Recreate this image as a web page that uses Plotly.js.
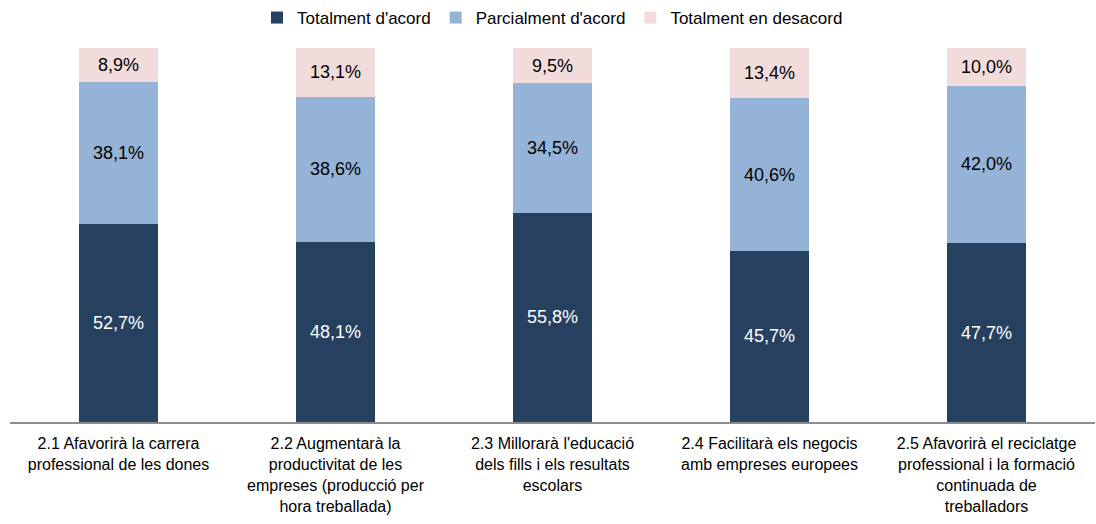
<!DOCTYPE html>
<html>
<head>
<meta charset="utf-8">
<script src="https://cdn.plot.ly/plotly-3.0.1.min.js"></script>
<style>
  html, body { margin: 0; padding: 0; background: #fff; }
  #chart { width: 1096px; height: 524px; }
</style>
</head>
<body>
<div id="chart"></div>
<script>
// categories (tick labels with the original line breaks)
let categories = [
  "2.1 Afavorirà la carrera<br>professional de les dones",
  "2.2 Augmentarà la<br>productivitat de les<br>empreses (producció per<br>hora treballada)",
  "2.3 Millorarà l'educació<br>dels fills i els resultats<br>escolars",
  "2.4 Facilitarà els negocis<br>amb empreses europees",
  "2.5 Afavorirà el reciclatge<br>professional i la formació<br>continuada de<br>treballadors"
];

// percentages per series
let totalmentAcord = [52.7, 48.1, 55.8, 45.7, 47.7];
let parcialmentAcord = [38.1, 38.6, 34.5, 40.6, 42.0];
let totalmentDesacord = [8.9, 13.1, 9.5, 13.4, 10.0];

let seriesNames = ["Totalment d'acord", "Parcialment d'acord", "Totalment en desacord"];
let seriesColors = ["#26405f", "#95b3d7", "#f2dcdb"];
let textColors = ["#ffffff", "#000000", "#000000"];
let seriesValues = [totalmentAcord, parcialmentAcord, totalmentDesacord];

let data = seriesValues.map(function (vals, i) {
  return {
    x: categories,
    y: vals,
    type: "bar",
    name: seriesNames[i],
    marker: { color: seriesColors[i] },
    texttemplate: "%{y:.1f}%",
    textposition: "inside",
    insidetextanchor: "middle",
    textangle: 0,
    textfont: { color: textColors[i], size: 18, family: "Liberation Sans, Arial, sans-serif" },
    hoverinfo: "skip"
  };
});

let layout = {
  width: 1096,
  height: 524,
  barmode: "stack",
  bargap: 0.64,
  separators: ",.",
  font: { family: "Liberation Sans, Arial, sans-serif", size: 16, color: "#000" },
  paper_bgcolor: "#fff",
  plot_bgcolor: "#fff",
  margin: { l: 10, r: 1, t: 47, b: 102 },
  showlegend: true,
  legend: {
    orientation: "h",
    x: 0.5,
    xanchor: "center",
    y: 1.0,
    yanchor: "top",
    yref: "container",
    font: { size: 17 },
    itemwidth: 30,
    traceorder: "normal"
  },
  xaxis: {
    showline: true,
    linecolor: "#8c8c8c",
    linewidth: 2,
    ticks: "",
    ticklabelstandoff: 6,
    tickfont: { size: 16 },
    showgrid: false,
    zeroline: false
  },
  yaxis: {
    visible: false,
    range: [0, 100],
    showgrid: false,
    zeroline: false
  }
};

Plotly.newPlot("chart", data, layout, { displayModeBar: false, staticPlot: true });
</script>
</body>
</html>
